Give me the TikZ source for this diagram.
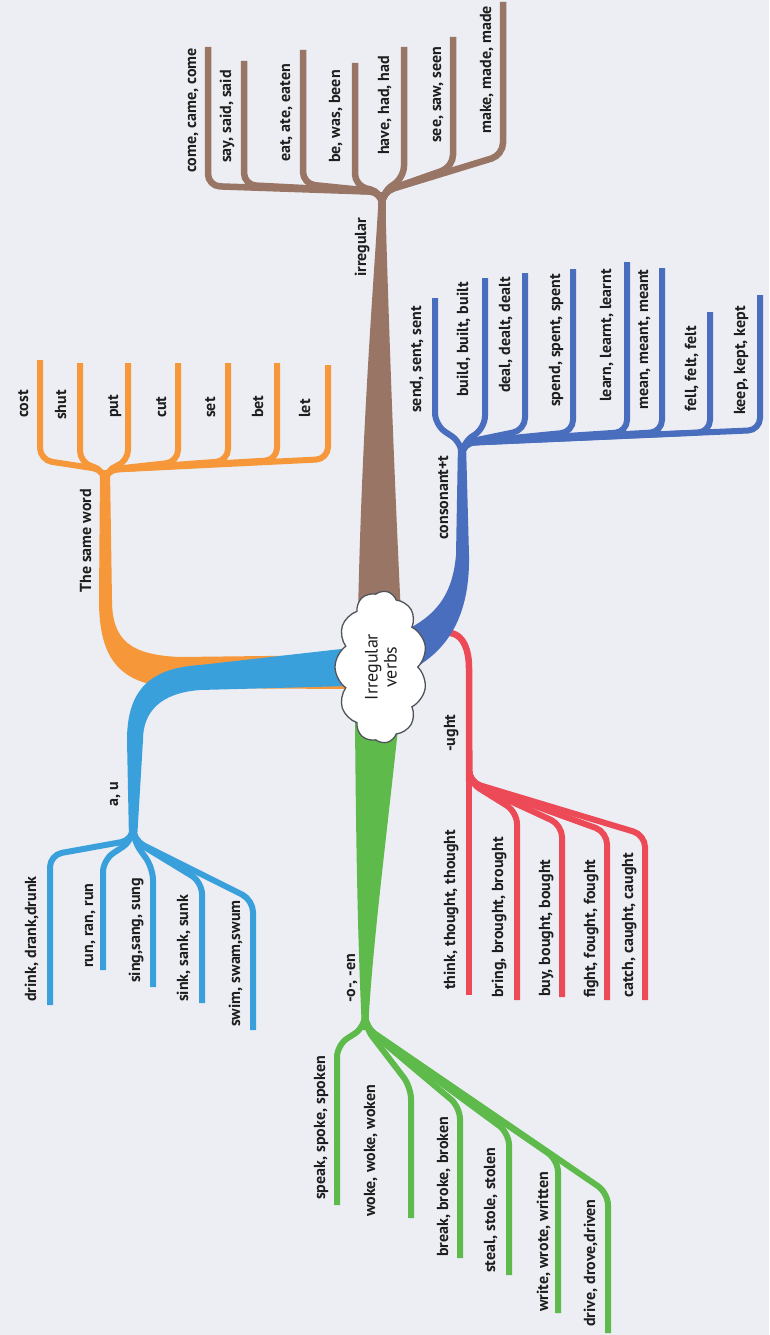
\documentclass[tikz,border=0pt]{standalone}
\usepackage{fontspec}
\setmainfont{PT Sans}
\usetikzlibrary{shapes.symbols}
\definecolor{bgc}{RGB}{236,238,243}
\definecolor{brownc}{RGB}{152,117,101}
\definecolor{orangec}{RGB}{246,152,58}
\definecolor{lblue}{RGB}{58,160,220}
\definecolor{dblue}{RGB}{74,110,190}
\definecolor{redc}{RGB}{236,74,86}
\definecolor{greenc}{RGB}{95,186,76}
\definecolor{txt}{RGB}{30,30,30}
\definecolor{cloudline}{RGB}{80,84,90}
\begin{document}
\begin{tikzpicture}[x=1pt,y=-1pt,
  lab/.style={rotate=90, anchor=west, inner sep=0pt, text=txt,
    font=\bfseries\fontsize{16}{16}\selectfont, text height=1.5ex, text depth=.25ex},
  branch/.style={line width=6pt, rounded corners=12pt},
  brline/.style={branch, brownc, line width=6.5pt},
  orline/.style={branch, orangec},
  lbline/.style={branch, lblue},
  dbline/.style={branch, dblue},
  rdline/.style={branch, redc},
  gnline/.style={branch, greenc},
  cloudnode/.style={cloud, cloud puffs=11, cloud puff arc=110, cloud ignores aspect,
    draw=cloudline, line width=1.3pt, fill=white, minimum width=152pt, minimum height=92pt,
    rotate=90, align=center, inner sep=0pt, text=txt, font=\fontsize{18}{19}\selectfont}]

\fill[bgc] (0,0) rectangle (769,1335);
\useasboundingbox (0,0) rectangle (769,1335);

% ---------- thick roots ----------
\fill[orangec] (350,689) -- (180,688) .. controls (120,686) and (99,660) .. (99,600)
  -- (100,470) -- (110,470) -- (112,600) .. controls (112,640) and (130,655) .. (180,657)
  -- (350,655) -- cycle;
\fill[lblue] (350,648) -- (200,665) .. controls (150,668) and (127,690) .. (127,740)
  -- (129,840) -- (137,840) -- (143,740) .. controls (143,712) and (160,693) .. (200,690)
  -- (350,686) -- cycle;
\fill[brownc] (358,615) .. controls (362,420) and (374,280) .. (379,192)
  -- (385,192) .. controls (388,300) and (393,450) .. (401,615) -- cycle;
\fill[greenc] (355,720) .. controls (356,850) and (358,950) .. (362,1030)
  -- (368,1030) .. controls (372,950) and (385,850) .. (399,720) -- cycle;
\coordinate (r0) at (440,634);
\coordinate (r1) at (469,668);
\coordinate (rB) at (469,750);
\coordinate (rJ) at (469,782);
\draw[redc, line width=6.5pt] (r0) .. controls (460,628) and (469,645) .. (r1) -- (rJ);
\fill[dblue] (410,628) .. controls (440,612) and (453,590) .. (456,555)
  -- (458,443) -- (466,443) -- (469,555) .. controls (470,610) and (452,645) .. (418,666) -- cycle;

% ---------- brown: irregular ----------
\coordinate (bB) at (382,245);
\coordinate (bJ) at (382,192);
\foreach \n/\x/\c/\t/\tx/\ty/\s in {
 come/208/186/47/193/173/{come, came, come},
 say/244/185/61/228/163/{say, said, said},
 eat/303/184/50/287/162/{eat, ate, eaten},
 be/355/186/63/337/163/{be, was, been},
 have/404/178/47/386/155/{have, had, had},
 see/453/167/37/438/143/{see, saw, seen},
 make/503/155/2/488/134/{make, made, made}}{
  \coordinate (b-\n-c) at (\x,\c);
  \coordinate (b-\n-e) at (\x,\t);
  \draw[brline] (bB) -- (bJ) -- (b-\n-c) -- (b-\n-e);
  \node[lab] (b-\n) at (\tx,\ty) {\s};
}
\node[lab] (irr) at (363,277) {irregular};

% ---------- orange: the same word ----------
\coordinate (oB) at (105,500);
\coordinate (oJ) at (105,470);
\foreach \n/\x/\c/\t/\tx/\ty/\s in {
 cost/40/460/360/25/418/{cost},
 shut/80/463/363/63/420/{shut},
 put/128/462/363/115/418/{put},
 cut/178/462/363/163/418/{cut},
 set/228/461/363/212/418/{set},
 bet/277/460/363/260/418/{bet},
 let/328/459/365/307/418/{let}}{
  \coordinate (o-\n-c) at (\x,\c);
  \coordinate (o-\n-e) at (\x,\t);
  \draw[orline] (oB) -- (oJ) -- (o-\n-c) -- (o-\n-e);
  \node[lab] (o-\n) at (\tx,\ty) {\s};
}
\node[lab] (same) at (88,593) {The same word};

% ---------- dark blue: consonant+t ----------
\coordinate (cB) at (462,475);
\coordinate (cJ) at (462,443);
\foreach \n/\x/\c/\t/\tx/\ty/\s in {
 send/435/425/298/418/413/{send, sent, sent},
 build/485/428/278/465/397/{build, built, built},
 deal/525/430/273/507/393/{deal, dealt, dealt},
 spend/573/432/269/557/407/{spend, spent, spent},
 learn/627/432/262/608/402/{learn, learnt, learnt},
 mean/662/432/268/645/410/{mean, meant, meant},
 fell/710/432/312/693/412/{fell, felt, felt},
 keep/760/430/295/742/415/{keep, kept, kept}}{
  \coordinate (c-\n-c) at (\x,\c);
  \coordinate (c-\n-e) at (\x,\t);
  \draw[dbline] (cB) -- (cJ) -- (c-\n-c) -- (c-\n-e);
  \node[lab] (c-\n) at (\tx,\ty) {\s};
}
\node[lab] (cons) at (445,540) {consonant+t};

% ---------- red: -ught ----------
\foreach \n/\x/\c/\t/\tx/\ty/\s in {
 think/469/800/995/452/990/{think, thought, thought},
 bring/517/812/1000/500/998/{bring, brought, brought},
 buy/562/825/997/547/997/{buy, bought, bought},
 fight/607/832/1000/592/998/{fight, fought, fought},
 catch/645/835/1000/630/998/{catch, caught, caught}}{
  \coordinate (r-\n-c) at (\x,\c);
  \coordinate (r-\n-e) at (\x,\t);
  \draw[rdline] (rB) -- (rJ) -- (r-\n-c) -- (r-\n-e);
  \node[lab] (r-\n) at (\tx,\ty) {\s};
}
\node[lab] (ught) at (452,752) {-ught};

% ---------- light blue: a, u ----------
\coordinate (aB) at (133,815);
\coordinate (aJ) at (133,840);
\foreach \n/\x/\c/\t/\tx/\ty/\s in {
 drink/50/855/1005/33/1002/{drink, drank,drunk},
 run/103/860/970/90/968/{run, ran, run},
 sing/153/868/987/137/983/{sing,sang, sung},
 sink/202/882/1003/185/1002/{sink, sank, sunk},
 swim/253/900/1030/237/1027/{swim, swam,swum}}{
  \coordinate (a-\n-c) at (\x,\c);
  \coordinate (a-\n-e) at (\x,\t);
  \draw[lbline] (aB) -- (aJ) -- (a-\n-c) -- (a-\n-e);
  \node[lab] (a-\n) at (\tx,\ty) {\s};
}
\node[lab] (au) at (115,807) {a, u};

% ---------- green: -o-, -en ----------
\coordinate (gB) at (365,1000);
\coordinate (gJ) at (365,1027);
\foreach \n/\x/\c/\t/\tx/\ty/\s in {
 speak/337/1045/1205/322/1200/{speak, spoke, spoken},
 woke/411/1087/1218/372/1217/{woke, woke, woken},
 break/460/1107/1258/445/1257/{break, broke, broken},
 steal/509/1133/1275/492/1273/{steal, stole, stolen},
 write/558/1160/1313/545/1312/{write, wrote, written},
 drive/608/1193/1333/592/1327/{drive, drove,driven}}{
  \coordinate (g-\n-c) at (\x,\c);
  \coordinate (g-\n-e) at (\x,\t);
  \draw[gnline] (gB) -- (gJ) -- (g-\n-c) -- (g-\n-e);
  \node[lab] (g-\n) at (\tx,\ty) {\s};
}
\node[lab] (oen) at (352,1003) {-o-, -en};

% ---------- centre ----------
\node[cloudnode] (centre) at (381,667) {Irregular\\verbs};
\end{tikzpicture}
\end{document}
